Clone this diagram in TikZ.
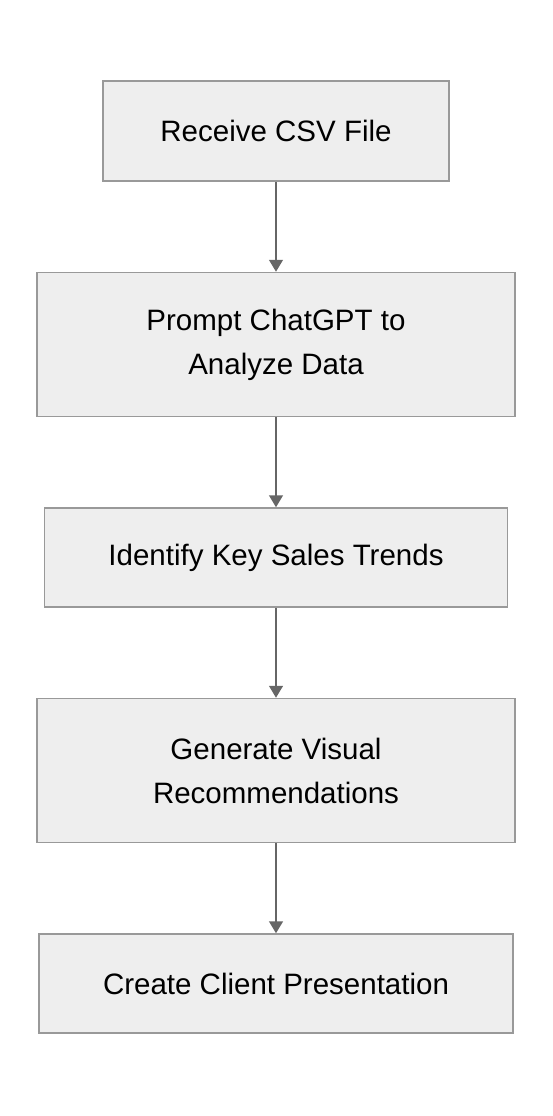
\documentclass[tikz,border=0pt]{standalone}
\usepackage{fontspec}
\setmainfont{Liberation Sans}
\usetikzlibrary{positioning,arrows.meta}
\definecolor{boxfill}{HTML}{EEEEEE}
\definecolor{boxline}{HTML}{999999}
\definecolor{arrowgray}{HTML}{666666}
\begin{document}
\begin{tikzpicture}[x=1pt, y=1pt,
	main/.style = {draw=boxline, fill=boxfill, line width=1.5pt, align=center, font=\fontsize{29.5}{44}\selectfont, inner sep=0pt},
	link/.style = {draw=arrowgray, line width=1.5pt, -{Triangle[length=12pt, width=14pt]}},
	node distance=90pt]
	
	\useasboundingbox (0,0) rectangle (552,-1116);
	
	\node[main, minimum width=346pt, minimum height=100pt] (csv) at (276,-131) {Receive CSV File};
	\node[main, minimum width=478pt, minimum height=144pt, below = of csv] (prompt) {Prompt ChatGPT to\\ Analyze Data};
	\node[main, minimum width=463pt, minimum height=99pt, below = of prompt] (trends) {Identify Key Sales Trends};
	\node[main, minimum width=478pt, minimum height=144pt, below = of trends] (visual) {Generate Visual\\ Recommendations};
	\node[main, minimum width=474pt, minimum height=99pt, below = of visual] (client) {Create Client Presentation};
	
	\draw[link] (csv) -- (prompt);
	\draw[link] (prompt) -- (trends);
	\draw[link] (trends) -- (visual);
	\draw[link] (visual) -- (client);
	
\end{tikzpicture}
\end{document}
